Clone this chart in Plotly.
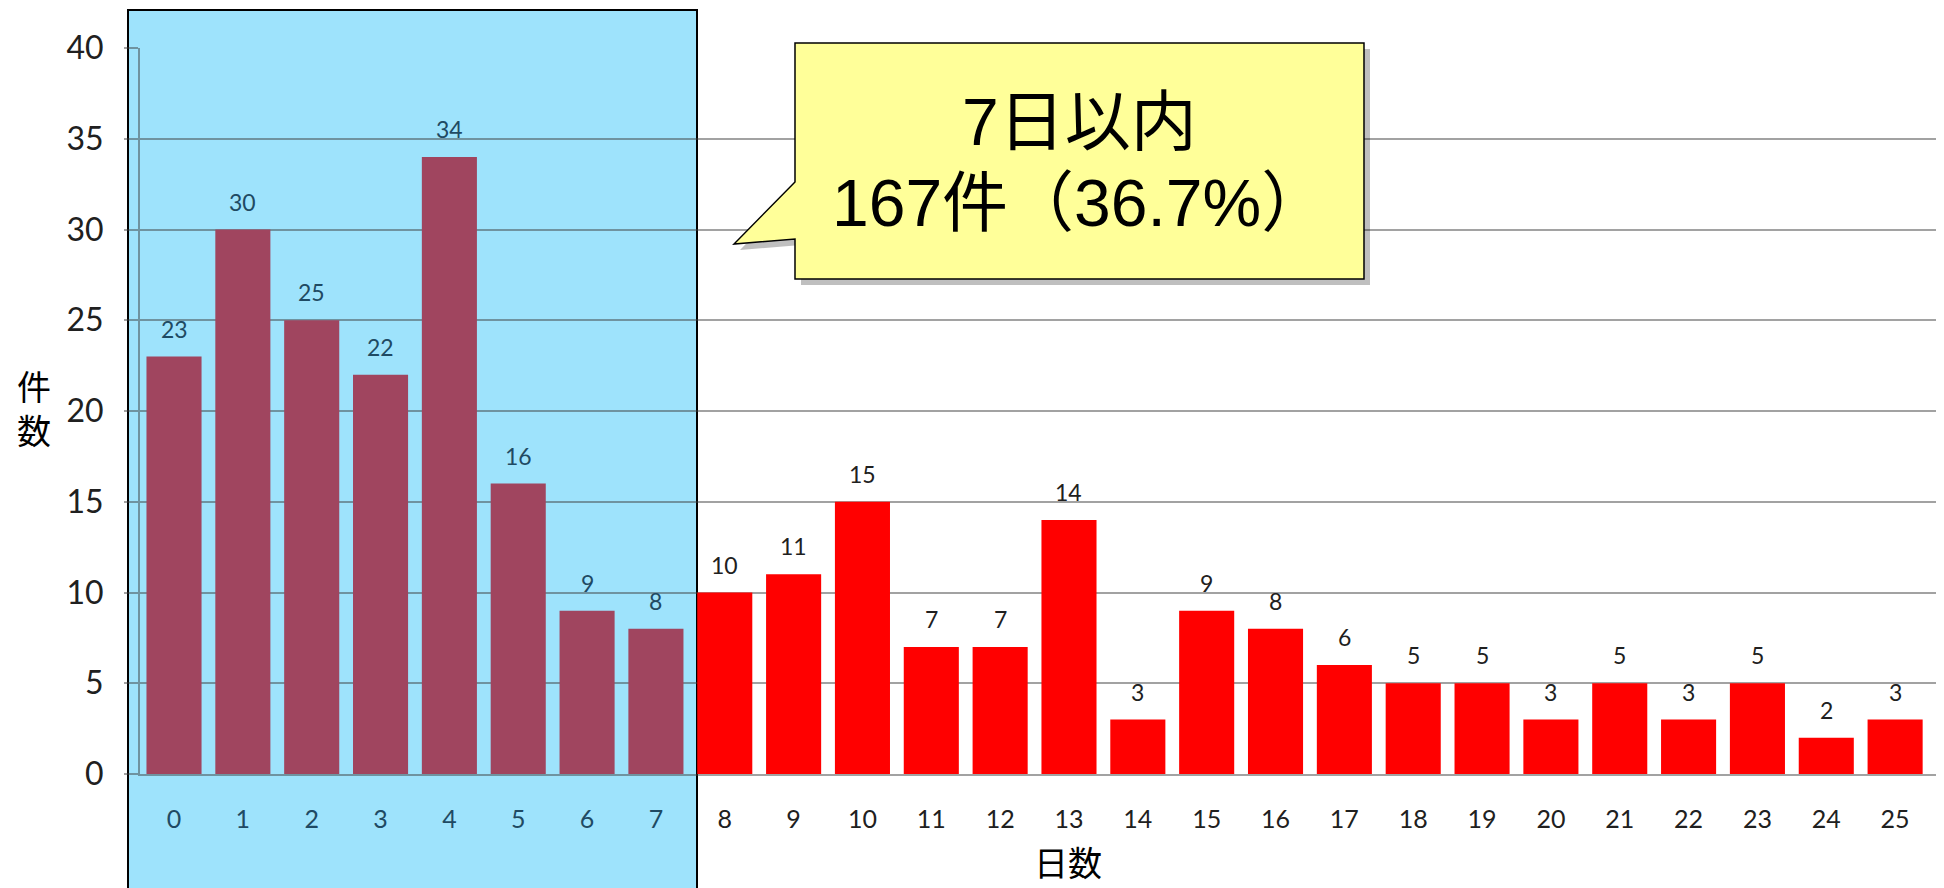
import plotly.graph_objects as go

# ---- data ----
days = list(range(26))
counts = [23, 30, 25, 22, 34, 16, 9, 8, 10, 11, 15, 7, 7, 14, 3, 9, 8, 6, 5, 5, 3, 5, 3, 5, 2, 3]
within_limit = 7
y_ticks = [0, 5, 10, 15, 20, 25, 30, 35, 40]
callout_lines = ["7日以内", "167件（36.7%）"]
x_title = "日数"
y_title = "件数"

# ---- geometry (page pixels; the browser body has an 8px margin) ----
OFF = 8
PAGE_W, PAGE_H = 1944, 888
W, H = PAGE_W - OFF, PAGE_H - OFF
PLOT_L, PLOT_R, PLOT_T, PLOT_B = 140, 1944, 48, 774
ML, MR, MT, MB = PLOT_L - OFF, PAGE_W - PLOT_R, PLOT_T - OFF, PAGE_H - PLOT_B
PW, PH = PLOT_R - PLOT_L, PLOT_B - PLOT_T

MAROON = "#A0455F"
RED = "#FF0000"
BLUE_BG = "#9EE3FC"
TEAL_TXT = "#1F4A63"
DARK_TXT = "#202020"
GRID = "rgba(60,60,60,0.48)"


def px(X):
    return (X - PLOT_L) / PW


def py(Y):
    return (PLOT_B - Y) / PH


bar_colors = [MAROON if d <= within_limit else RED for d in days]
lab_colors = [TEAL_TXT if d <= within_limit else DARK_TXT for d in days]

fig = go.Figure()
fig.add_trace(go.Bar(
    x=days, y=counts, marker=dict(color=bar_colors, line=dict(width=0)),
    hoverinfo="x+y", showlegend=False,
))

# data labels
for d, c, col in zip(days, counts, lab_colors):
    fig.add_annotation(x=d, y=c, text=str(c), showarrow=False, yanchor="middle",
                       yshift=28, font=dict(family="Lato", size=23, color=col))

ticktext = [f"<span style='color:{col}'>{d}</span>" for d, col in zip(days, lab_colors)]

fig.update_layout(
    width=W, height=H,
    margin=dict(l=ML, r=MR, t=MT, b=MB, pad=0),
    paper_bgcolor="white", plot_bgcolor="rgba(0,0,0,0)",
    bargap=0.2,
    xaxis=dict(
        range=[-0.494, 25.71], tickmode="array", tickvals=days, ticktext=ticktext,
        showgrid=False, zeroline=False, showline=True, linecolor=GRID, linewidth=2,
        ticks="", ticklabelstandoff=22,
        tickfont=dict(family="Lato", size=25, color=DARK_TXT),
    ),
    yaxis=dict(
        range=[0, 40], tickmode="array", tickvals=y_ticks,
        showgrid=True, gridcolor=GRID, gridwidth=2, zeroline=False,
        showline=True, linecolor=GRID, linewidth=2,
        ticks="outside", ticklen=14, tickcolor=GRID, tickwidth=2,
        ticklabelstandoff=14,
        tickfont=dict(family="Lato", size=32, color=DARK_TXT),
    ),
    font=dict(family="Lato, Noto Sans CJK JP"),
)

# blue highlight region (days 0-7)
fig.add_shape(type="rect", xref="paper", yref="paper", layer="below",
              x0=px(128), x1=px(697), y0=py(PAGE_H + 20), y1=py(10),
              fillcolor=BLUE_BG, line=dict(color="black", width=2))

# callout balloon
pts = [(795, 43), (1364, 43), (1364, 279), (795, 279), (795, 239), (734, 244), (795, 182)]


def path_of(points, dx=0, dy=0):
    return "M " + " L ".join(f"{px(x + dx):.5f},{py(y + dy):.5f}" for x, y in points) + " Z"


fig.add_shape(type="path", xref="paper", yref="paper", layer="above",
              path=path_of(pts, 6, 6), fillcolor="rgba(0,0,0,0.25)", line=dict(width=0))
fig.add_shape(type="path", xref="paper", yref="paper", layer="above",
              path=path_of(pts), fillcolor="#FFFF99", line=dict(color="black", width=1.5))

for txt, yc in zip(callout_lines, [122, 203]):
    fig.add_annotation(xref="paper", yref="paper", x=px(1079), y=py(yc),
                       text=txt, showarrow=False,
                       xanchor="center", yanchor="middle", align="center",
                       font=dict(family="Liberation Sans, Noto Sans CJK JP", size=66, color="black"))

# axis titles
fig.add_annotation(xref="paper", yref="paper", x=px(34), y=py(407),
                   text="<br>".join(list(y_title)), showarrow=False,
                   xanchor="center", yanchor="middle",
                   font=dict(family="Noto Sans CJK JP", size=34, color="black"))
fig.add_annotation(xref="paper", yref="paper", x=px(1068), y=py(862),
                   text=x_title, showarrow=False, xanchor="center", yanchor="middle",
                   font=dict(family="Noto Sans CJK JP", size=34, color="black"))

fig.write_html("out.html")
